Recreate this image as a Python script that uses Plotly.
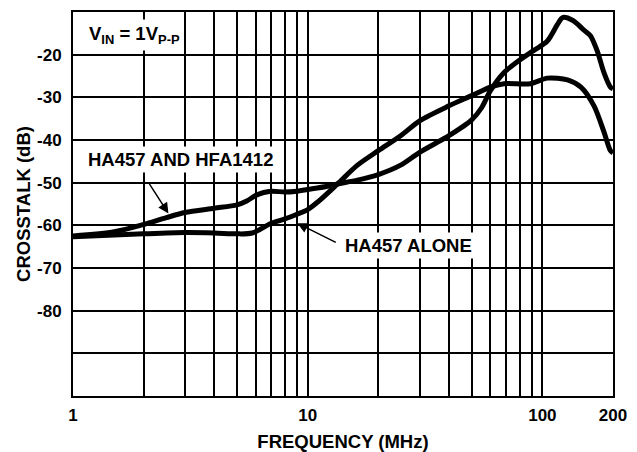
import numpy as np
import plotly.graph_objects as go

# Series: HA457 AND HFA1412
freq_a = [1, 1.5, 2, 2.5, 3, 4, 5, 5.5, 6, 6.5, 7, 8, 9, 10, 12, 13.4, 16.3, 20, 24.9, 30, 40,
          50, 55, 60, 68.7, 78.5, 92, 105, 116, 122, 135, 150, 160, 171, 183, 195, 200]
xtalk_a = [-62.5, -61.5, -59.8, -58.2, -57.0, -56.0, -55.2, -54.3, -53.0, -52.3, -52.0, -52.2, -52.0,
           -51.6, -50.9, -50.3, -49.4, -48.1, -45.9, -42.9, -39.0,
           -35.3, -32.5, -28.5, -24.2, -21.6, -19.0, -16.8, -12.9, -11.3, -12.0, -14.2, -15.5, -19.0, -24.2, -27.6, -28.0]

# Series: HA457 ALONE
freq_b = [1, 2, 3, 4, 5, 5.8, 7, 8, 9, 10, 11, 13.4, 16.3, 20, 24.9, 30, 40, 50, 60, 68.7,
          89, 105, 128, 146, 166, 183, 195, 200]
xtalk_b = [-62.7, -62.0, -61.7, -61.8, -62.0, -61.8, -59.5, -58.5, -57.4, -56.3, -54.6, -50.3, -45.9,
           -42.5, -39.0, -35.5, -32.0, -29.6, -27.6, -26.8, -26.8, -25.5, -25.9, -27.6, -32.0, -38.1,
           -42.5, -43.0]

# Axis ticks
x_tickvals = [1, 2, 3, 4, 5, 6, 7, 8, 9, 10, 20, 30, 40, 50, 60, 70, 80, 90, 100, 200]
x_labeled = {1: "1", 10: "10", 100: "100", 200: "200"}
y_tickvals = [-100, -90, -80, -70, -60, -50, -40, -30, -20, -10]
y_labeled = {-80: "-80", -70: "-70", -60: "-60", -50: "-50", -40: "-40", -30: "-30", -20: "-20"}

FONT = "Liberation Sans, Arial, Helvetica, sans-serif"

fig = go.Figure()
for fx, fy in [(freq_a, xtalk_a), (freq_b, xtalk_b)]:
    fig.add_trace(go.Scatter(x=fx, y=fy, mode="lines",
                             line=dict(color="black", width=5, shape="spline", smoothing=0.8),
                             showlegend=False, hoverinfo="skip"))

fig.update_layout(
    width=637, height=452,
    margin=dict(l=65, r=32, t=4, b=64, autoexpand=False),
    paper_bgcolor="white", plot_bgcolor="white",
    font=dict(family=FONT, size=17, color="black", weight="bold"),
    showlegend=False,
)
fig.update_xaxes(
    type="log", range=[0, np.log10(200)],
    tickvals=x_tickvals, ticktext=[x_labeled.get(v, "") for v in x_tickvals],
    showgrid=True, gridcolor="black", gridwidth=1.5,
    showline=True, linecolor="black", linewidth=2, mirror=True,
    ticks="", zeroline=False, automargin=False,
    tickfont=dict(size=17, family=FONT, weight="bold"),
    ticklabelstandoff=3,
    title=dict(text="FREQUENCY (MHz)", font=dict(size=18.5, family=FONT, weight="bold"), standoff=11),
)
fig.update_yaxes(
    range=[-100, -10],
    tickvals=y_tickvals, ticktext=[y_labeled.get(v, "") for v in y_tickvals],
    showgrid=True, gridcolor="black", gridwidth=1.5,
    showline=True, linecolor="black", linewidth=2, mirror=True,
    ticks="", zeroline=False, automargin=False,
    tickfont=dict(size=17, family=FONT, weight="bold"),
    ticklabelstandoff=6,
    title=dict(text="CROSSTALK (dB)", font=dict(size=18.5, family=FONT, weight="bold"), standoff=2),
)

ann_font = dict(size=18.5, family=FONT, color="black", weight="bold")
fig.add_annotation(x=0.05, y=-15.4, xref="x", yref="y", xanchor="left", yanchor="middle",
                   text="V<sub>IN</sub> = 1V<sub>P-P</sub>", showarrow=False,
                   bgcolor="white", font=ann_font, borderpad=3)
fig.add_annotation(x=0.457, y=-44.6, xref="x", yref="y", xanchor="center", yanchor="middle",
                   text="HA457 AND HFA1412", showarrow=False, bgcolor="white", font=ann_font, borderpad=2)
fig.add_annotation(x=1.429, y=-64.7, xref="x", yref="y", xanchor="center", yanchor="middle",
                   text="HA457 ALONE", showarrow=False, bgcolor="white", font=ann_font, borderpad=2)
# arrows
fig.add_annotation(x=np.log10(2.55), y=-57.2, xref="x", yref="y", text="", showarrow=True,
                   ax=-20, ay=-31, arrowhead=2, arrowsize=1.4, arrowwidth=1.5, arrowcolor="black")
fig.add_annotation(x=np.log10(9.03), y=-59.5, xref="x", yref="y", text="", showarrow=True,
                   ax=40, ay=20, arrowhead=2, arrowsize=1.4, arrowwidth=1.5, arrowcolor="black")

fig.write_html("out.html")
